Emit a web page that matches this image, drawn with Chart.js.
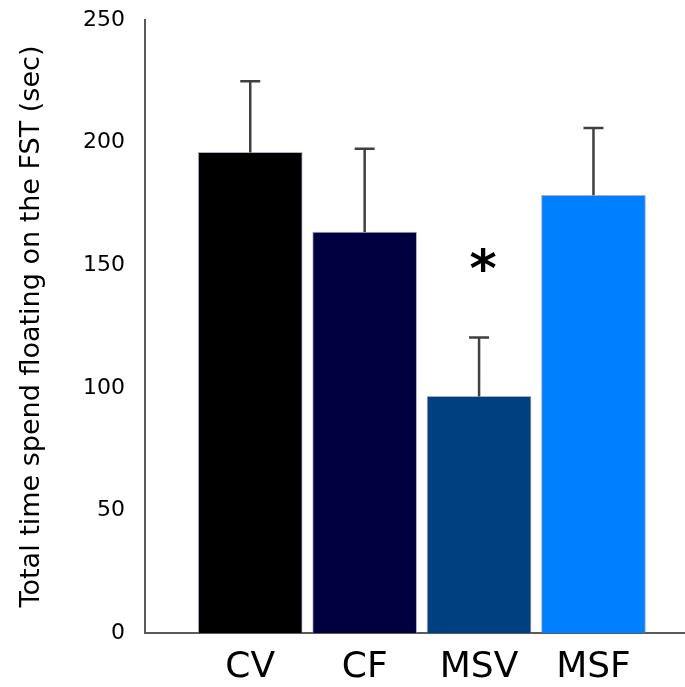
<!DOCTYPE html>
<html>
<head>
<meta charset="utf-8">
<script src="https://cdn.jsdelivr.net/npm/chart.js@4/dist/chart.umd.min.js"></script>
<style>
  html, body { margin: 0; padding: 0; background: #fff; }
  #wrap { width: 685px; height: 687px; }
</style>
</head>
<body>
<div id="wrap"><canvas id="fstChart"></canvas></div>
<script>
// values
var categories = ["CV", "CF", "MSV", "MSF"];
var means = [196, 163.5, 96.5, 178.5];
var errors = [29, 34, 24, 27.5];
var barColors = ["#000000", "#000040", "#004080", "#0080ff"];
var yTicks = [0, 50, 100, 150, 200, 250];
var starred = ["MSV"];

// upward-only error bars and the significance star
const errorBars = {
    id: "errorBars",
    afterDatasetsDraw(chart) {
        const ctx = chart.ctx;
        const xs = chart.scales.x, ys = chart.scales.y;
        ctx.save();
        ctx.strokeStyle = "#404040";
        ctx.lineWidth = 2.5;
        for (var i = 0; i < means.length; i++) {
            var x = xs.getPixelForValue(i + 1);
            var y0 = ys.getPixelForValue(means[i]);
            var y1 = ys.getPixelForValue(means[i] + errors[i]);
            ctx.beginPath();
            ctx.moveTo(x, y0);
            ctx.lineTo(x, y1);
            ctx.moveTo(x - 10, y1);
            ctx.lineTo(x + 10, y1);
            ctx.stroke();
        }
        ctx.fillStyle = "#000";
        ctx.font = "bold 52px 'DejaVu Sans'";
        ctx.textAlign = "center";
        ctx.textBaseline = "middle";
        starred.forEach(function (c) {
            var i = categories.indexOf(c);
            var x = xs.getPixelForValue(i + 1) + 4;
            var y = ys.getPixelForValue(150);
            ctx.fillText("*", x, y + 7);
        });
        ctx.restore();
    },
};

var ctx = document.getElementById("fstChart");
var chart = new Chart(ctx, {
    type: "bar",
    data: {
        datasets: [
            {
                data: means.map(function (m, i) { return { x: i + 1, y: m }; }),
                backgroundColor: barColors,
                borderColor: "rgba(120,120,160,0.6)",
                borderWidth: 1,
                barThickness: 104,
            },
        ],
    },
    options: {
        responsive: true,
        maintainAspectRatio: false,
        animation: false,
        layout: { padding: { top: 20, right: 0, left: 0, bottom: 0 } },
        plugins: {
            legend: { display: false },
            tooltip: { enabled: false },
        },
        scales: {
            x: {
                type: "linear",
                offset: false,
                min: 0.08,
                max: 4.8,
                grid: { display: false, drawTicks: false, offset: false },
                border: { display: true, color: "#5a5a5a", width: 2 },
                afterBuildTicks: function (scale) {
                    scale.ticks = categories.map(function (c, i) { return { value: i + 1 }; });
                },
                afterFit: function (scale) {
                    scale.height = 54;
                    scale.paddingLeft = 0;
                    scale.paddingRight = 0;
                },
                ticks: {
                    autoSkip: false,
                    maxRotation: 0,
                    padding: 13,
                    color: "#000",
                    font: { family: "'DejaVu Sans'", size: 36 },
                    callback: function (v) { return categories[v - 1] || ""; },
                },
            },
            y: {
                min: 0,
                max: 250,
                grid: { display: false, drawTicks: false },
                border: { display: true, color: "#5a5a5a", width: 2 },
                afterBuildTicks: function (scale) {
                    scale.ticks = yTicks.map(function (v) { return { value: v }; });
                },
                afterFit: function (scale) {
                    scale.width = 145;
                    scale.paddingTop = 0;
                    scale.paddingBottom = 0;
                },
                ticks: {
                    padding: 20,
                    color: "#000",
                    font: { family: "'DejaVu Sans'", size: 22 },
                },
                title: {
                    display: true,
                    text: "Total time spend floating on the FST (sec)",
                    color: "#000",
                    font: { family: "'DejaVu Sans'", size: 27 },
                    padding: { top: 16, bottom: 0 },
                },
            },
        },
    },
    plugins: [errorBars],
});
</script>
</body>
</html>
